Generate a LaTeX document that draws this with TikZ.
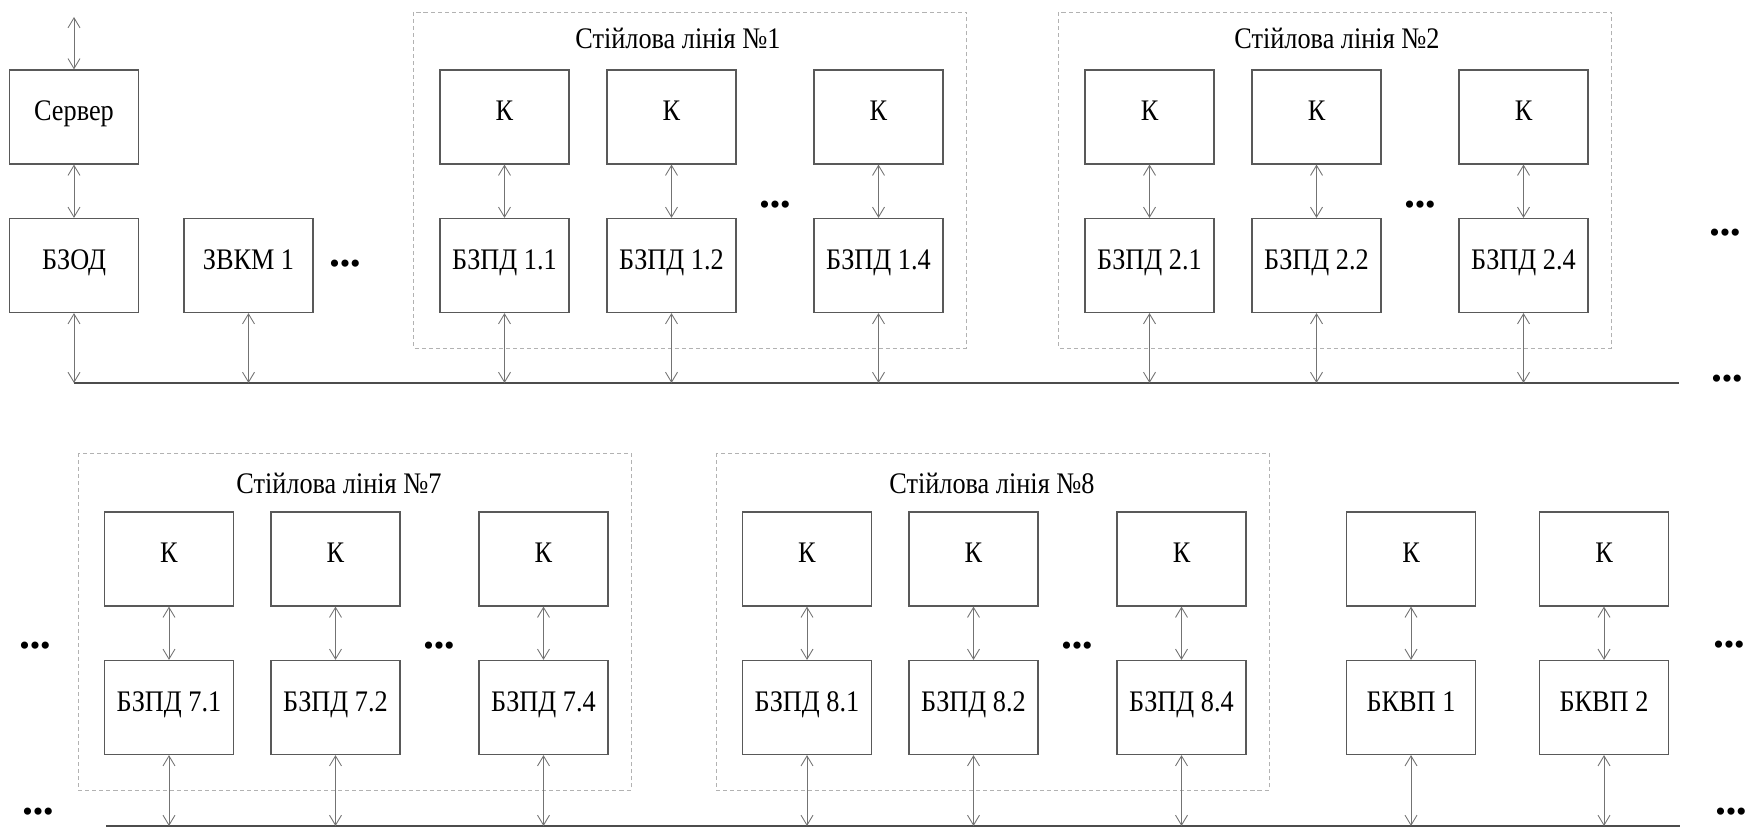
\documentclass[tikz,border=0pt]{standalone}
\usepackage{fontspec}
\setmainfont{Liberation Serif}[FakeStretch=0.88]
\newfontfamily\dotfont{Liberation Serif}
\usetikzlibrary{arrows.meta}

\tikzset{
	block/.style={draw=black!65, line width=0.7pt, minimum width=2.58cm, minimum height=1.88cm, inner sep=0pt, text height=0.67em, text depth=0.25em, font=\fontsize{17}{19}\selectfont},
	link/.style={draw=black!55, line width=0.5pt, {Straight Barb[length=2mm,width=2.4mm]}-{Straight Barb[length=2mm,width=2.4mm]}},
	bus/.style={draw=black!70, line width=1.4pt},
	stall/.style={draw=black!30, line width=0.5pt, dash pattern=on 2.3pt off 1.7pt},
	title/.style={font=\fontsize{17}{19}\selectfont, inner sep=0pt},
	dots/.style={font=\dotfont\fontsize{17}{19}\selectfont, inner sep=0pt},
}

\begin{document}
\begin{tikzpicture}[x=0.02cm,y=-0.02cm]
	\useasboundingbox (0,0) rectangle (1757,828);

	% Server, exchange block and the first measuring block
	\coordinate (net) at (74,17);
	\node[block] (server) at (74,117) {Сервер};
	\node[block] (bzod) at (74,265.5) {БЗОД};
	\node[block] (zvkm) at (248.5,265.5) {ЗВКМ 1};
	\node[dots] (dz) at (345,267) {•••};

	% Top bus
	\coordinate (busA) at (74,383);
	\coordinate (busB) at (1679,383);
	\draw[bus] (busA) -- (busB);

	\draw[link] (net) -- (server);
	\draw[link] (server) -- (bzod);
	\draw[link] (bzod) -- (bzod |- busA);
	\draw[link] (zvkm) -- (zvkm |- busA);

	% Stall lines 1 and 2
	\foreach \g/\x/\tx in {1/504.5/678, 2/1149.5/1337} {
		\draw[stall] (\x-91,12) rectangle (\x+462,348);
		\node[title] (t\g) at (\tx,38) {Стійлова лінія №\g};
		\foreach \i/\dx in {1/0, 2/167, 4/374} {
			\node[block] (k\g-\i) at (\x+\dx,117) {К};
			\node[block] (b\g-\i) at (\x+\dx,265.5) {БЗПД \g.\i};
			\draw[link] (k\g-\i) -- (b\g-\i);
			\draw[link] (b\g-\i) -- (b\g-\i |- busA);
		}
		\node[dots] (d\g) at (\x+270.5,208) {•••};
	}
	\node[dots] (dr1) at (1725,236) {•••};
	\node[dots] (dr2) at (1727,382) {•••};

	% Bottom bus
	\coordinate (busC) at (106,826);
	\coordinate (busD) at (1680,826);
	\draw[bus] (busC) -- (busD);
	\node[dots] (dl3) at (35,649) {•••};
	\node[dots, anchor=base] (dl4) at (38,821) {•••};

	% Stall lines 7 and 8
	\foreach \g/\x/\tx in {7/169/339, 8/807/992} {
		\draw[stall] (\x-91,453) rectangle (\x+462,790);
		\node[title] (t\g) at (\tx,483) {Стійлова лінія №\g};
		\foreach \i/\dx in {1/0, 2/166.5, 4/374.5} {
			\node[block] (k\g-\i) at (\x+\dx,559) {К};
			\node[block] (b\g-\i) at (\x+\dx,707.5) {БЗПД \g.\i};
			\draw[link] (k\g-\i) -- (b\g-\i);
			\draw[link] (b\g-\i) -- (b\g-\i |- busC);
		}
		\node[dots] (d\g) at (\x+270,649) {•••};
	}

	% Climate blocks
	\foreach \j/\x in {1/1411, 2/1604} {
		\node[block] (kv\j) at (\x,559) {К};
		\node[block] (bkvp\j) at (\x,707.5) {БКВП \j};
		\draw[link] (kv\j) -- (bkvp\j);
		\draw[link] (bkvp\j) -- (bkvp\j |- busC);
	}
	\node[dots] (dr3) at (1729,648) {•••};
	\node[dots, anchor=base] (dr4) at (1731,821) {•••};
\end{tikzpicture}
\end{document}
